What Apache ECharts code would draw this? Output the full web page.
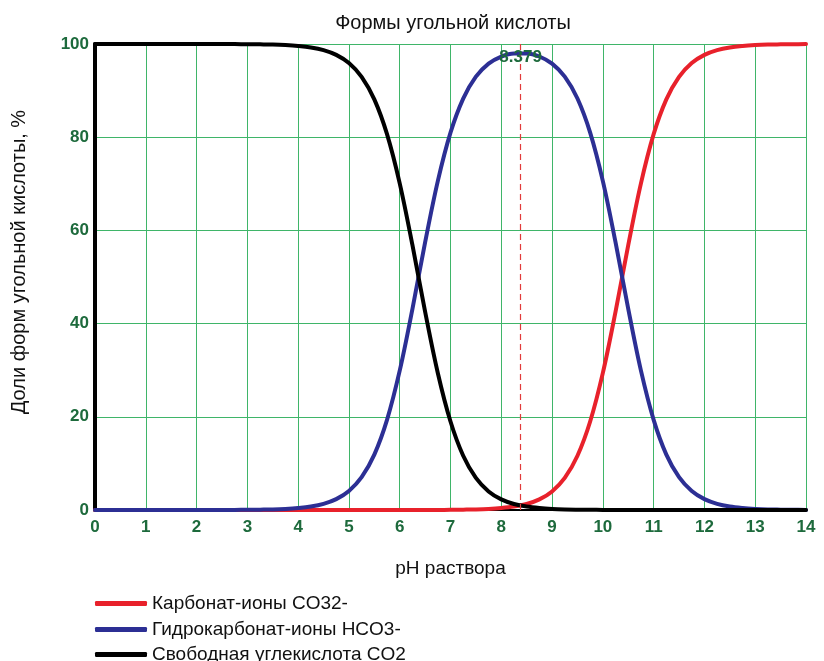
<!DOCTYPE html>
<html>
<head>
<meta charset="utf-8">
<script src="https://cdn.jsdelivr.net/npm/echarts@6/dist/echarts.min.js"></script>
<style>
  html, body { margin: 0; padding: 0; background: #fff; }
  #chart { width: 824px; height: 661px; }
</style>
</head>
<body>
<div id="chart"></div>
<script>
// pH grid, step 0.25 from 0 to 14
const phValues = [
  0, 0.25, 0.5, 0.75, 1, 1.25, 1.5, 1.75, 2, 2.25, 2.5, 2.75,
  3, 3.25, 3.5, 3.75, 4, 4.25, 4.5, 4.75, 5, 5.25, 5.5, 5.75,
  6, 6.25, 6.5, 6.75, 7, 7.25, 7.5, 7.75, 8, 8.25, 8.5, 8.75,
  9, 9.25, 9.5, 9.75, 10, 10.25, 10.5, 10.75, 11, 11.25, 11.5, 11.75,
  12, 12.25, 12.5, 12.75, 13, 13.25, 13.5, 13.75, 14
];

// Carbonate ions CO3(2-), %
const carbonate = [
  0, 0, 0, 0, 0, 0, 0, 0, 0, 0, 0, 0,
  0, 0, 0, 0, 0, 0, 0, 0, 0, 0, 0, 0,
  0, 0, 0.01, 0.01, 0.03, 0.07, 0.12, 0.22, 0.41, 0.73, 1.29, 2.28,
  3.99, 6.89, 11.64, 18.99, 29.42, 42.57, 56.86, 70.10, 80.65, 88.11, 92.95, 95.91,
  97.66, 98.67, 99.25, 99.57, 99.76, 99.87, 99.92, 99.96, 99.98
];

// Bicarbonate ions HCO3-, %
const bicarbonate = [
  0, 0, 0, 0, 0, 0, 0, 0, 0, 0.01, 0.01, 0.02,
  0.04, 0.08, 0.13, 0.24, 0.43, 0.75, 1.33, 2.34, 4.09, 7.05, 11.89, 19.35,
  29.90, 43.13, 57.42, 70.58, 80.98, 88.29, 92.99, 95.79, 97.31, 97.98, 97.98, 97.32,
  95.78, 92.99, 88.30, 80.98, 70.58, 57.43, 43.14, 29.90, 19.35, 11.89, 7.05, 4.09,
  2.34, 1.33, 0.75, 0.43, 0.24, 0.13, 0.08, 0.04, 0.02
];

// Free carbonic acid CO2, %
const freeCO2 = [
  100, 100, 100, 100, 100, 100, 100, 100, 100, 99.99, 99.99, 99.98,
  99.96, 99.92, 99.87, 99.76, 99.57, 99.25, 98.67, 97.66, 95.91, 92.95, 88.11, 80.65,
  70.10, 56.87, 42.57, 29.41, 18.99, 11.64, 6.89, 3.99, 2.28, 1.29, 0.73, 0.41,
  0.22, 0.12, 0.07, 0.04, 0.02, 0.01, 0.01, 0, 0, 0, 0, 0,
  0, 0, 0, 0, 0, 0, 0, 0, 0
];

// pH of the bicarbonate maximum
const peakPh = 8.379;

const seriesNames = [
  'Карбонат-ионы CO32-',
  'Гидрокарбонат-ионы HCO3-',
  'Свободная углекислота CO2'
];

const FONT = '"Liberation Sans", Arial, sans-serif';
const TICK_GREEN = '#1d6a3c';
const GRID_GREEN = '#3fb569';

const pairs = arr => phValues.map((x, i) => [x, arr[i]]);

const chart = echarts.init(document.getElementById('chart'));

const lineSeries = (name, color, values, extra) => Object.assign({
  name: name,
  type: 'line',
  data: pairs(values),
  showSymbol: false,
  smooth: 0.35,
  lineStyle: { color: color, width: 4, cap: 'round', join: 'round' },
  itemStyle: { color: color }
}, extra || {});

// one legend row per series, stacked under the plot
const legendRow = (name, top) => ({
  orient: 'vertical',
  left: 95,
  top: top,
  padding: 0,
  itemWidth: 52,
  itemHeight: 5,
  icon: 'roundRect',
  data: [name],
  textStyle: { fontFamily: FONT, fontSize: 19, lineHeight: 19, color: '#111' }
});

chart.setOption({
  animation: false,
  backgroundColor: '#ffffff',
  title: {
    text: 'Формы угольной кислоты',
    left: 448,
    textAlign: 'center',
    top: 8,
    textStyle: { fontFamily: FONT, fontSize: 20, fontWeight: 'normal', color: '#111' }
  },
  legend: [
    legendRow(seriesNames[0], 594),
    legendRow(seriesNames[1], 620),
    legendRow(seriesNames[2], 645)
  ],
  grid: { left: 95, right: 18, top: 44, bottom: 151 },
  xAxis: [{
    type: 'value',
    min: 0, max: 14, interval: 1,
    name: 'pH раствора',
    nameLocation: 'middle',
    nameGap: 49,
    nameTextStyle: { fontFamily: FONT, fontSize: 19, color: '#111' },
    axisLine: { show: true, onZero: false, lineStyle: { color: '#000', width: 2 } },
    axisTick: { show: false },
    axisLabel: { margin: 9, fontFamily: FONT, fontSize: 17, fontWeight: 'bold', color: TICK_GREEN },
    splitLine: { show: true, lineStyle: { color: GRID_GREEN, width: 1 } }
  }, {
    type: 'value',
    position: 'top',
    min: 0, max: 14,
    axisLine: { show: true, lineStyle: { color: '#000', width: 2 } },
    axisTick: { show: false },
    axisLabel: { show: false },
    splitLine: { show: false }
  }],
  yAxis: [{
    type: 'value',
    min: 0, max: 100, interval: 20,
    name: 'Доли форм угольной кислоты, %',
    nameLocation: 'middle',
    nameGap: 66,
    nameRotate: 90,
    nameTextStyle: { fontFamily: FONT, fontSize: 20, color: '#111', padding: [0, 0, 0, 30] },
    axisLine: { show: true, lineStyle: { color: '#333', width: 1 } },
    axisTick: { show: false },
    axisLabel: { margin: 6, fontFamily: FONT, fontSize: 17, fontWeight: 'bold', color: TICK_GREEN },
    splitLine: { show: true, lineStyle: { color: GRID_GREEN, width: 1 } }
  }, {
    type: 'value',
    position: 'right',
    min: 0, max: 100,
    axisLine: { show: true, lineStyle: { color: '#000', width: 4 } },
    axisTick: { show: false },
    axisLabel: { show: false },
    splitLine: { show: false }
  }],
  series: [
    lineSeries(seriesNames[0], '#e8212b', carbonate),
    lineSeries(seriesNames[1], '#2c2f94', bicarbonate, {
      markLine: {
        silent: true,
        symbol: 'none',
        lineStyle: { color: '#e23a3a', type: [6, 4], width: 1.2 },
        label: {
          show: true,
          position: 'end',
          distance: -22,
          formatter: String(peakPh),
          fontFamily: FONT,
          fontSize: 17,
          fontWeight: 'bold',
          color: TICK_GREEN
        },
        data: [{ xAxis: peakPh }]
      }
    }),
    lineSeries(seriesNames[2], '#000000', freeCO2)
  ]
});
</script>
</body>
</html>
